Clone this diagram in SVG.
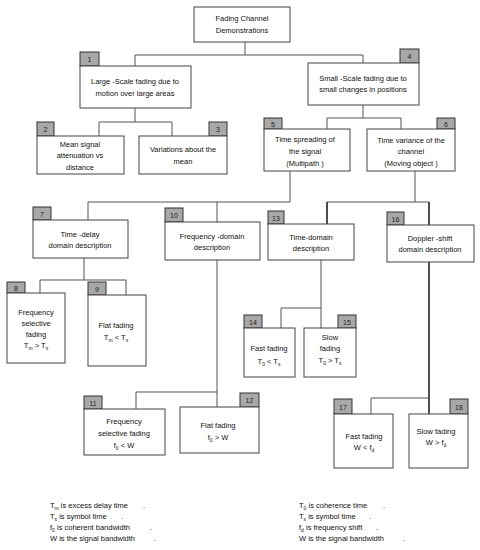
<svg xmlns="http://www.w3.org/2000/svg" width="480" height="550" viewBox="0 0 480 550">
<style>
text{font-family:"Liberation Sans",Arial,sans-serif;font-size:7.5px;fill:#111;}
.t{text-anchor:middle;}
.num{font-size:7px;text-anchor:middle;fill:#222;}
.box{fill:#fff;stroke:#444;stroke-width:1;}
.tag{fill:#a8a8a8;stroke:#333;stroke-width:1;}
.c{fill:none;stroke:#555;stroke-width:1;}
.ck{fill:none;stroke:#222;stroke-width:1.6;}
.s{font-size:5px;}
.leg{font-size:7.5px;}
</style>
<rect width="480" height="550" fill="#fff"/>
<g id="connectors">
<path class="c" d="M245,42V55M135,55H363M135,55V66M363,55V63"/>
<path class="c" d="M135,108V122M99,122H172M99,122V136M172,122V136"/>
<path class="c" d="M363,105V118M327,118H401M327,118V129M401,118V129"/>
<path class="c" d="M290,171V202M88,202H290M88,202V220M217,202V222"/>
<path class="c" d="M415,171V202M327,202H429"/>
<path class="ck" d="M327,202V224M429,202V225"/>
<path class="c" d="M84,258V280M40,280H126M40,280V293M126,280V295"/>
<path class="c" d="M217,260V407M136,392H217M136,392V409"/>
<path class="c" d="M321,260V328M281,308H321M281,308V328"/>
<path class="ck" d="M429,262V414"/>
<path class="c" d="M371,398H429M371,398V414"/>
</g>
<g id="root">
<rect class="box" x="194" y="7" width="96" height="35"/>
<text class="t" x="242" y="20.5">Fading Channel</text>
<text class="t" x="242" y="32.5">Demonstrations</text>
</g>
<g id="n1">
<rect class="tag" x="80" y="52" width="19" height="14"/><text class="num" x="89.5" y="62">1</text>
<rect class="box" x="80" y="66" width="111" height="42"/>
<text class="t" x="135" y="84">Large -Scale fading due to</text>
<text class="t" x="135" y="96">motion over large areas</text>
</g>
<g id="n4">
<rect class="tag" x="400" y="49" width="19" height="14"/><text class="num" x="409.5" y="59">4</text>
<rect class="box" x="308" y="63" width="111" height="42"/>
<text class="t" x="363" y="81">Small -Scale fading due to</text>
<text class="t" x="363" y="92">small changes in positions</text>
</g>
<g id="n2">
<rect class="tag" x="37" y="122" width="17" height="14"/><text class="num" x="45.5" y="132">2</text>
<rect class="box" x="37" y="136" width="87" height="38"/>
<text class="t" x="80" y="147">Mean signal</text>
<text class="t" x="80" y="158">attenuation vs</text>
<text class="t" x="80" y="170">distance</text>
</g>
<g id="n3">
<rect class="tag" x="209" y="122" width="18" height="14"/><text class="num" x="218" y="132">3</text>
<rect class="box" x="139" y="136" width="88" height="38"/>
<text class="t" x="183" y="152">Variations about the</text>
<text class="t" x="183" y="164">mean</text>
</g>
<g id="n5">
<rect class="tag" x="264" y="118" width="18" height="11"/><text class="num" x="273" y="126.5">5</text>
<rect class="box" x="264" y="129" width="86" height="42"/>
<text class="t" x="305" y="142">Time spreading of</text>
<text class="t" x="305" y="154">the signal</text>
<text class="t" x="305" y="166">(Multipath )</text>
</g>
<g id="n6">
<rect class="tag" x="437" y="118" width="18" height="11"/><text class="num" x="446" y="126.5">6</text>
<rect class="box" x="367" y="129" width="88" height="42"/>
<text class="t" x="411" y="143">Time variance of the</text>
<text class="t" x="411" y="154">channel</text>
<text class="t" x="411" y="166">(Moving object )</text>
</g>
<g id="n7">
<rect class="tag" x="33" y="207" width="18" height="13"/><text class="num" x="42" y="216.5">7</text>
<rect class="box" x="33" y="220" width="95" height="38"/>
<text class="t" x="80" y="237">Time -delay</text>
<text class="t" x="80" y="248">domain description</text>
</g>
<g id="n10">
<rect class="tag" x="165" y="208" width="18" height="14"/><text class="num" x="174" y="218">10</text>
<rect class="box" x="165" y="222" width="95" height="38"/>
<text class="t" x="212" y="239">Frequency -domain</text>
<text class="t" x="212" y="250">description</text>
</g>
<g id="n13">
<rect class="tag" x="268" y="211" width="16" height="13"/><text class="num" x="276" y="220.5">13</text>
<rect class="box" x="268" y="224" width="86" height="36"/>
<text class="t" x="311" y="240">Time-domain</text>
<text class="t" x="311" y="251">description</text>
</g>
<g id="n16">
<rect class="tag" x="387" y="212" width="17" height="13"/><text class="num" x="395.5" y="221.5">16</text>
<rect class="box" x="387" y="225" width="87" height="37"/>
<text class="t" x="430" y="241">Doppler -shift</text>
<text class="t" x="430" y="252">domain description</text>
</g>
<g id="n8">
<rect class="tag" x="7" y="282" width="18" height="11"/><text class="num" x="16" y="290.5">8</text>
<rect class="box" x="7" y="293" width="58" height="70"/>
<text class="t" x="36" y="315">Frequency</text>
<text class="t" x="36" y="326">selective</text>
<text class="t" x="36" y="337">fading</text>
<text class="t" x="36" y="348">T<tspan class="s" dy="1.5">m</tspan><tspan dy="-1.5"> &gt; T</tspan><tspan class="s" dy="1.5">s</tspan></text>
</g>
<g id="n9">
<rect class="tag" x="88" y="282" width="18" height="13"/><text class="num" x="97" y="291.5">9</text>
<rect class="box" x="88" y="295" width="58" height="71"/>
<text class="t" x="116" y="328">Flat fading</text>
<text class="t" x="116" y="340">T<tspan class="s" dy="1.5">m</tspan><tspan dy="-1.5"> &lt; T</tspan><tspan class="s" dy="1.5">s</tspan></text>
</g>
<g id="n11">
<rect class="tag" x="84" y="396" width="18" height="13"/><text class="num" x="93" y="405.5">11</text>
<rect class="box" x="84" y="409" width="81" height="46"/>
<text class="t" x="124" y="424">Frequency</text>
<text class="t" x="124" y="436">selective fading</text>
<text class="t" x="124" y="448">f<tspan class="s" dy="1.5">0</tspan><tspan dy="-1.5">  &lt; W</tspan></text>
</g>
<g id="n12">
<rect class="tag" x="240" y="393" width="19" height="14"/><text class="num" x="249.5" y="403">12</text>
<rect class="box" x="180" y="407" width="79" height="46"/>
<text class="t" x="218" y="428">Flat fading</text>
<text class="t" x="218" y="440">f<tspan class="s" dy="1.5">0</tspan><tspan dy="-1.5">  &gt; W</tspan></text>
</g>
<g id="n14">
<rect class="tag" x="244" y="315" width="18" height="13"/><text class="num" x="253" y="324.5">14</text>
<rect class="box" x="244" y="328" width="51" height="49"/>
<text class="t" x="269" y="351">Fast fading</text>
<text class="t" x="269" y="364">T<tspan class="s" dy="1.5">0</tspan><tspan dy="-1.5">  &lt;  T</tspan><tspan class="s" dy="1.5">s</tspan></text>
</g>
<g id="n15">
<rect class="tag" x="338" y="315" width="18" height="13"/><text class="num" x="347" y="324.5">15</text>
<rect class="box" x="304" y="328" width="52" height="49"/>
<text class="t" x="330" y="340">Slow</text>
<text class="t" x="330" y="351">fading</text>
<text class="t" x="330" y="363">T<tspan class="s" dy="1.5">0</tspan><tspan dy="-1.5">  &gt;  T</tspan><tspan class="s" dy="1.5">s</tspan></text>
</g>
<g id="n17">
<rect class="tag" x="334" y="399" width="18" height="15"/><text class="num" x="343" y="409.5">17</text>
<rect class="box" x="334" y="414" width="59" height="54"/>
<text class="t" x="364" y="439">Fast fading</text>
<text class="t" x="364" y="450">W  &lt;  f<tspan class="s" dy="1.5">d</tspan></text>
</g>
<g id="n18">
<rect class="tag" x="450" y="399" width="18" height="15"/><text class="num" x="459" y="409.5">18</text>
<rect class="box" x="409" y="414" width="59" height="54"/>
<text class="t" x="436" y="434">Slow fading</text>
<text class="t" x="436" y="445">W  &gt;  f<tspan class="s" dy="1.5">d</tspan></text>
</g>
<g id="legend">
<text class="leg" x="50" y="508">T<tspan class="s" dy="1.5">m</tspan><tspan dy="-1.5"> is excess delay time</tspan><tspan x="143">.</tspan></text>
<text class="leg" x="50" y="519">T<tspan class="s" dy="1.5">s</tspan><tspan dy="-1.5"> is symbol time</tspan><tspan x="121">.</tspan></text>
<text class="leg" x="50" y="530">f<tspan class="s" dy="1.5">0</tspan><tspan dy="-1.5"> is coherent bandwidth</tspan><tspan x="150">.</tspan></text>
<text class="leg" x="50" y="541">W is the signal bandwidth<tspan x="154">.</tspan></text>
<text class="leg" x="299" y="508">T<tspan class="s" dy="1.5">0</tspan><tspan dy="-1.5"> is coherence time</tspan><tspan x="383">.</tspan></text>
<text class="leg" x="299" y="519">T<tspan class="s" dy="1.5">s</tspan><tspan dy="-1.5"> is symbol time</tspan><tspan x="369">.</tspan></text>
<text class="leg" x="299" y="530">f<tspan class="s" dy="1.5">d</tspan><tspan dy="-1.5"> is frequency shift</tspan><tspan x="376">.</tspan></text>
<text class="leg" x="299" y="541">W is the signal bandwidth<tspan x="403">.</tspan></text>
</g>
</svg>
